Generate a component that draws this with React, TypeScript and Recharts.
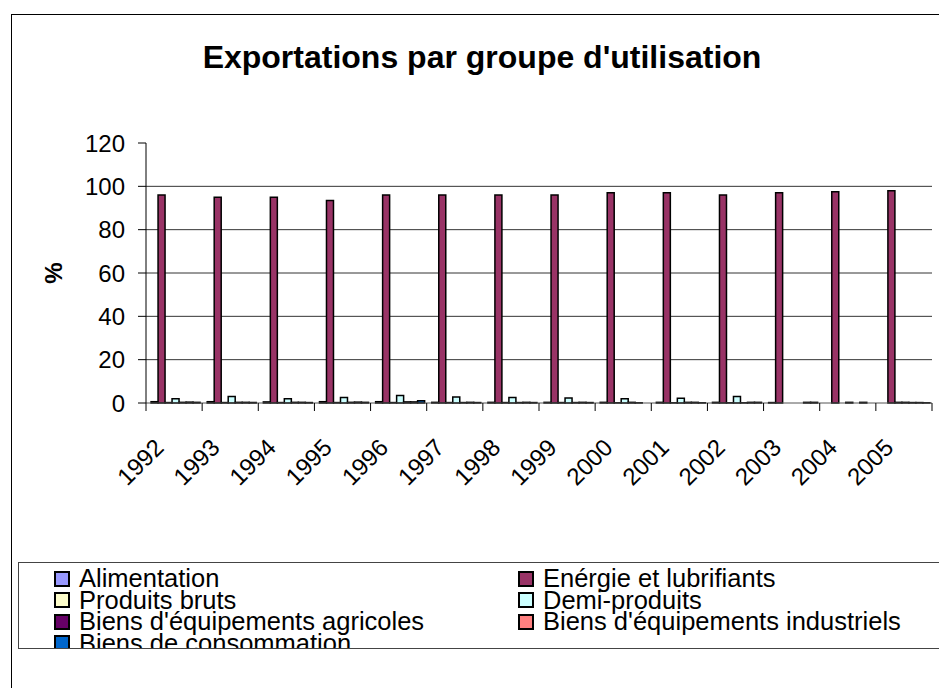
import React from 'react';
import { BarChart, Bar, XAxis, YAxis, CartesianGrid } from 'recharts';

const years = ['1992', '1993', '1994', '1995', '1996', '1997', '1998', '1999', '2000', '2001', '2002', '2003', '2004', '2005'];

const alimentation = [0.6, 0.6, 0.5, 0.6, 0.6, 0.3, 0.3, 0.3, 0.3, 0.3, 0.3, 0.2, 0, 0];
const energie = [96, 95, 95, 93.5, 96, 96, 96, 96, 97, 97, 96, 97, 97.5, 98];
const produitsBruts = [0.2, 0.2, 0.2, 0.2, 0.2, 0.2, 0.2, 0.2, 0.1, 0.1, 0.1, 0, 0, 0.3];
const demiProduits = [2, 3, 2, 2.5, 3.5, 2.8, 2.5, 2.3, 2, 2.2, 3, 0, 0.3, 0.3];
const agricoles = [0.3, 0.3, 0.3, 0.3, 0.5, 0.2, 0.2, 0.2, 0.3, 0.3, 0.1, 0, 0, 0.2];
const industriels = [0.4, 0.3, 0.3, 0.4, 0.5, 0.3, 0.3, 0.3, 0.1, 0.3, 0.3, 0.3, 0.3, 0.2];
const consommation = [0.3, 0.2, 0.2, 0.3, 1.0, 0.2, 0.2, 0.2, 0, 0.1, 0.3, 0.3, 0, 0.1];

const seriesKeys = ['alimentation', 'energie', 'produitsBruts', 'demiProduits', 'agricoles', 'industriels', 'consommation'];
const seriesNames = [
  'Alimentation',
  'Enérgie et lubrifiants',
  'Produits bruts',
  'Demi-produits',
  "Biens d'équipements agricoles",
  "Biens d'équipements industriels",
  'Biens de consommation',
];
const seriesColors = ['#9999FF', '#993366', '#FFFFCC', '#CCFFFF', '#660066', '#FF8080', '#0066CC'];
const seriesValues = [alimentation, energie, produitsBruts, demiProduits, agricoles, industriels, consommation];

const yTicks = [0, 20, 40, 60, 80, 100, 120];
const gridValues = [20, 40, 60, 80, 100];

const data = years.map((year, i) => {
  const row: Record<string, string | number> = { year };
  seriesKeys.forEach((k, s) => {
    row[k] = seriesValues[s][i];
  });
  return row;
});

const FONT = 'Arial, "Liberation Sans", sans-serif';
const W = 939;
const H = 688;
const M_TOP = 143;
const M_RIGHT = 7;
const Y_W = 146;
const X_H = 285;
const HALF_BAND = (W - Y_W - M_RIGHT) / years.length / 2;

const XTick = (props: any) => {
  const { x, y, payload, index } = props;
  const ax = x - 9;
  const ay = y + 46;
  return (
    <g>
      <line x1={x - HALF_BAND} x2={x - HALF_BAND} y1={y} y2={y + 8} stroke="#000" strokeWidth={1} />
      {index === years.length - 1 && (
        <line x1={x + HALF_BAND} x2={x + HALF_BAND} y1={y} y2={y + 8} stroke="#000" strokeWidth={1} />
      )}
      <text
        x={ax}
        y={ay}
        transform={`rotate(-45 ${ax} ${ay})`}
        textAnchor="end"
        fontSize={24}
        fontFamily={FONT}
        fill="#000"
      >
        {payload.value}
      </text>
    </g>
  );
};

export default function App() {
  const legendRows: number[][] = [];
  for (let i = 0; i < seriesNames.length; i += 2) {
    legendRows.push(i + 1 < seriesNames.length ? [i, i + 1] : [i]);
  }
  return (
    <div
      style={{
        position: 'absolute',
        left: 0,
        top: 0,
        width: W,
        height: H,
        overflow: 'hidden',
        background: '#fff',
        fontFamily: FONT,
      }}
    >
      <div
        style={{
          position: 'absolute',
          left: 11,
          top: 14,
          width: 1200,
          height: 1200,
          border: '1px solid #000',
        }}
      />
      <div
        style={{
          position: 'absolute',
          left: 0,
          top: 38,
          width: 964,
          textAlign: 'center',
          fontSize: 32,
          fontWeight: 'bold',
          lineHeight: '38px',
          color: '#000',
        }}
      >
        Exportations par groupe d'utilisation
      </div>
      <div
        style={{
          position: 'absolute',
          left: 0,
          top: 0,
          width: W,
          height: H,
        }}
      >
        <BarChart
          width={W}
          height={H}
          data={data}
          margin={{ top: M_TOP, right: M_RIGHT, bottom: 0, left: 0 }}
          barCategoryGap="9%"
          barGap={0}
        >
          <CartesianGrid horizontal vertical={false} stroke="#333" horizontalValues={gridValues} />
          <XAxis
            dataKey="year"
            height={X_H}
            interval={0}
            tickSize={0}
            tickMargin={0}
            tickLine={false}
            axisLine={{ stroke: '#555' }}
            tick={<XTick />}
          />
          <YAxis
            width={Y_W}
            domain={[0, 120]}
            ticks={yTicks}
            interval={0}
            tickSize={8}
            tickMargin={13}
            axisLine={{ stroke: '#000' }}
            tickLine={{ stroke: '#000' }}
            tick={{ fontSize: 24, fill: '#000', fontFamily: FONT }}
          />
          {seriesKeys.map((k, s) => (
            <Bar
              key={k}
              dataKey={k}
              name={seriesNames[s]}
              fill={seriesColors[s]}
              stroke="#000"
              strokeWidth={1.5}
              isAnimationActive={false}
            />
          ))}
        </BarChart>
      </div>
      <div
        style={{
          position: 'absolute',
          left: 54,
          top: 273,
          transform: 'translate(-50%, -50%) rotate(-90deg)',
          fontSize: 24,
          fontWeight: 'bold',
          color: '#000',
        }}
      >
        %
      </div>
      <div
        style={{
          position: 'absolute',
          left: 18,
          top: 562,
          width: 1200,
          height: 85,
          borderTop: '1px solid #444',
          borderLeft: '1px solid #444',
          borderBottom: '1px solid #444',
          overflow: 'hidden',
        }}
      >
        {legendRows.map((row, r) =>
          row.map((s, c) => (
            <div
              key={s}
              style={{
                position: 'absolute',
                left: c === 0 ? 35 : 499,
                top: 5 + r * 21.5,
                height: 21.5,
                display: 'flex',
                alignItems: 'center',
                whiteSpace: 'nowrap',
              }}
            >
              <div
                style={{
                  width: 12,
                  height: 12,
                  border: '2px solid #000',
                  background: seriesColors[s],
                  marginRight: 9,
                  flex: 'none',
                }}
              />
              <span style={{ fontSize: 25.5, lineHeight: '21.5px', color: '#000' }}>{seriesNames[s]}</span>
            </div>
          ))
        )}
      </div>
    </div>
  );
}
